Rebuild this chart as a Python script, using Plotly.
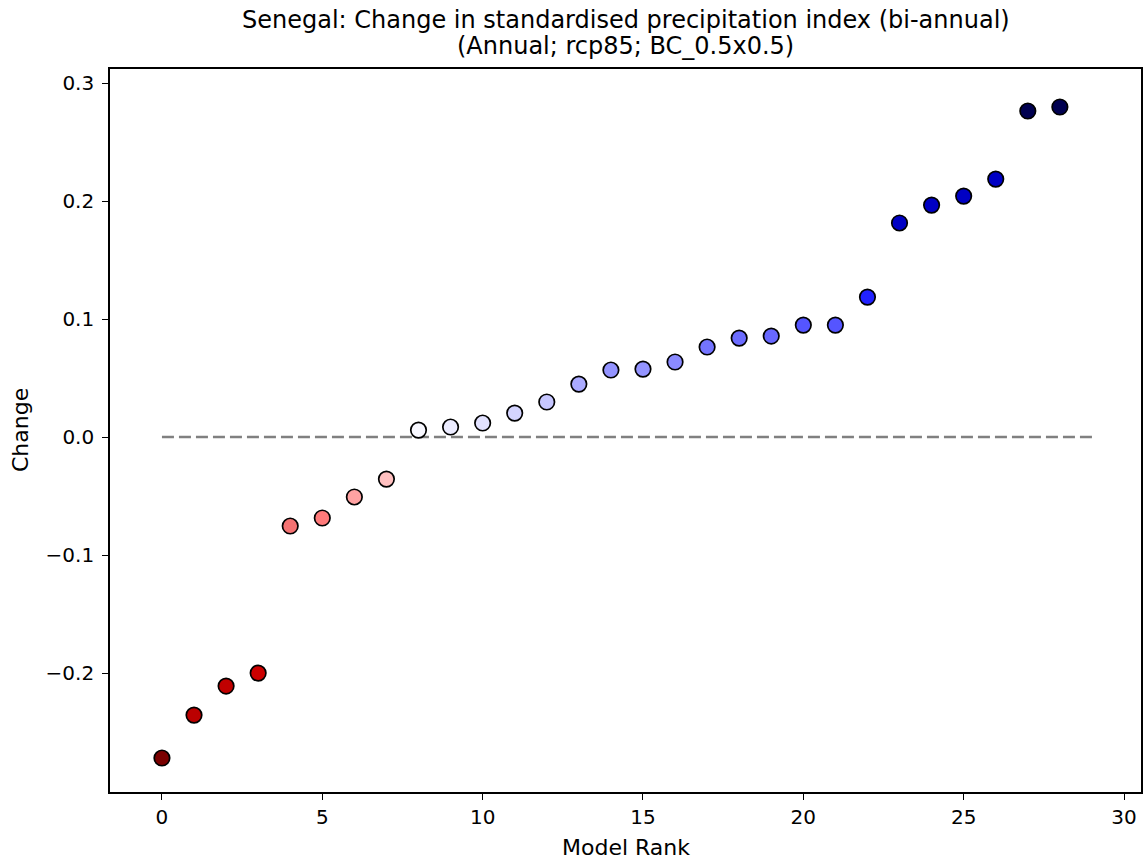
import plotly.graph_objects as go

ranks = list(range(29))
change = [-0.272, -0.2356, -0.211, -0.200, -0.0754, -0.0686, -0.0508, -0.0356,
          0.0059, 0.0085, 0.0119, 0.0203, 0.0297, 0.0449, 0.0568, 0.0576,
          0.0636, 0.0763, 0.0839, 0.0856, 0.0949, 0.0949, 0.1186, 0.1814,
          0.1966, 0.2042, 0.2186, 0.2763, 0.2797]
point_colors = ["#7a0000", "#bb0000", "#c00000", "#cc0000", "#f47272", "#ff7a7a",
                "#ffa2a2", "#ffc0c0", "#f8f8ff", "#ececff", "#e2e2ff", "#d4d4ff",
                "#c6c6ff", "#ababff", "#9494ff", "#9494ff", "#8a8aff", "#7474ff",
                "#6c6cff", "#6868ff", "#5555ff", "#5555ff", "#2222ff", "#0000c4",
                "#0000c4", "#0000c4", "#0000c4", "#000050", "#000050"]
xticks = [0, 5, 10, 15, 20, 25, 30]
yticks = [-0.2, -0.1, 0.0, 0.1, 0.2, 0.3]
title_lines = ["Senegal: Change in standardised precipitation index (bi-annual)",
               "(Annual; rcp85; BC_0.5x0.5)"]

W, H = 1144, 861
L, R, T, B = 110, 3, 69, 69
pw, ph = W - L - R, H - T - B

fig = go.Figure()
fig.add_trace(go.Scatter(x=[0, len(change)], y=[0, 0], mode="lines",
                         line=dict(color="#808080", width=2.6, dash="12px,5px"),
                         hoverinfo="skip", showlegend=False))
fig.add_trace(go.Scatter(x=ranks, y=change, mode="markers",
                         marker=dict(size=15.5, color=point_colors,
                                     line=dict(color="black", width=1.7)),
                         showlegend=False))

font = "DejaVu Sans"
axis_common = dict(ticks="outside", ticklen=6, tickwidth=1.3, tickcolor="black",
                   showgrid=False, zeroline=False, showline=True, linecolor="black",
                   linewidth=1.6, mirror=True, automargin=False,
                   tickfont=dict(size=20))
fig.update_layout(
    width=W, height=H,
    margin=dict(l=L, r=R, t=T, b=B),
    paper_bgcolor="white", plot_bgcolor="white",
    font=dict(family=font, size=20, color="black"),
    xaxis=dict(range=[-1.62, 30.53], tickvals=xticks, **axis_common),
    yaxis=dict(range=[-0.3008, 0.3119], tickvals=yticks, tickformat=".1f",
               ticklabelstandoff=4, **axis_common),
    annotations=[
        dict(text=title_lines[0], xref="paper", yref="paper", x=0.5,
             y=1 + (T - 20) / ph, xanchor="center", yanchor="middle",
             showarrow=False, font=dict(size=24)),
        dict(text=title_lines[1], xref="paper", yref="paper", x=0.5,
             y=1 + (T - 46) / ph, xanchor="center", yanchor="middle",
             showarrow=False, font=dict(size=24)),
        dict(text="Model Rank", xref="paper", yref="paper", x=0.5,
             y=(T + ph - 847) / ph, xanchor="center", yanchor="middle",
             showarrow=False, font=dict(size=22)),
        dict(text="Change", xref="paper", yref="paper", x=(20 - L) / pw,
             y=(T + ph - 430) / ph, xanchor="center", yanchor="middle",
             textangle=-90, showarrow=False, font=dict(size=22)),
    ],
)
fig.write_html("out.html", config={"displayModeBar": False},
               post_script="document.body.style.margin='0';"
                           "document.body.style.overflow='hidden';")
